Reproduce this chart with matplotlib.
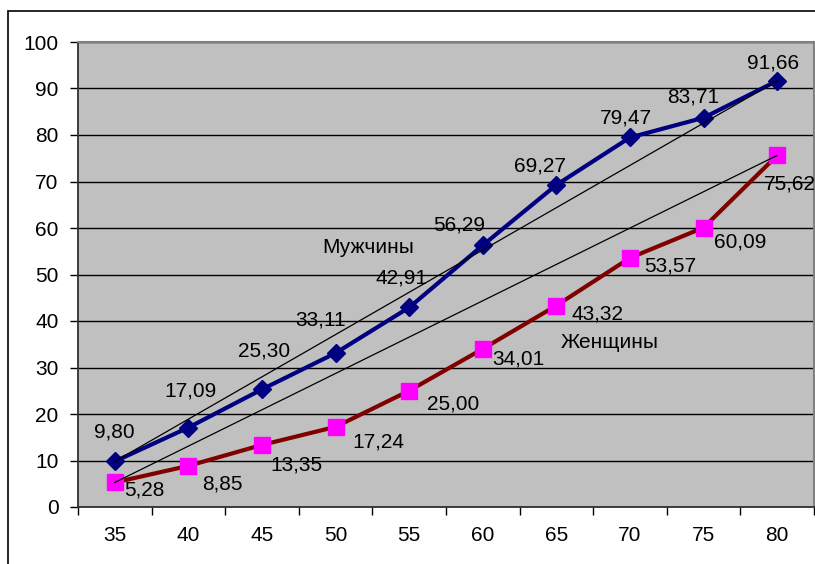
import numpy as np
import matplotlib
matplotlib.use("Agg")
import matplotlib.pyplot as plt
from matplotlib.patches import Rectangle

plt.rcParams['font.family'] = ['Liberation Sans', 'DejaVu Sans']

# ---- data ----
ages = ['35', '40', '45', '50', '55', '60', '65', '70', '75', '80']
men = [9.80, 17.09, 25.30, 33.11, 42.91, 56.29, 69.27, 79.47, 83.71, 91.66]
women = [5.28, 8.85, 13.35, 17.24, 25.00, 34.01, 43.32, 53.57, 60.09, 75.62]
men_name = 'Мужчины'
women_name = 'Женщины'

# label offsets in pixels (layout only)
men_off = [(0, 29), (2, 37), (2, 38), (-15, 33), (-8, 29), (-24, 20), (-16, 19), (-4, 19), (-10, 21), (-4, 18)]
women_off = [(30, -8), (34, -18), (34, -20), (43, -15), (44, -13), (36, -10), (41, -8), (40, -8), (37, -14), (13, -29)]

FS = 15
x = np.arange(len(ages))

fig = plt.figure(figsize=(8.15, 5.64), dpi=100)
ax = fig.add_axes([78 / 815, 57 / 564, 736 / 815, 465 / 564])
ax.set_facecolor('#C0C0C0')

# outer chart border (runs off the right/bottom edge)
fig.patches.append(Rectangle((8 / 815, -0.2), 1.0, (564 - 11) / 564 + 0.2,
                             transform=fig.transFigure, fill=False,
                             edgecolor='black', linewidth=1.2, clip_on=False))

ax.set_ylim(0, 100)
ax.set_xlim(-0.5, len(ages) - 0.5)
ax.set_yticks(range(0, 101, 10))
ax.yaxis.grid(True, color='black', linewidth=1.0)
ax.set_axisbelow(True)

ax.set_xticks(x)
ax.set_xticklabels(ages)
ax.set_xticks(np.arange(-0.5, len(ages)), minor=True)
ax.tick_params(axis='x', which='major', length=0, pad=14, labelsize=FS)
ax.tick_params(axis='x', which='minor', length=6, width=1, color='black')
ax.tick_params(axis='y', length=6, width=1, pad=8, labelsize=FS)

for s in ['top', 'right']:
    ax.spines[s].set_color('#808080')
    ax.spines[s].set_linewidth(1.5)
for s in ['left', 'bottom']:
    ax.spines[s].set_color('#303030')
    ax.spines[s].set_linewidth(1.3)

ax.plot(x, men, color='#000080', linewidth=3, marker='D', markersize=9,
        markerfacecolor='#000080', markeredgecolor='#000080', zorder=3)
ax.plot(x, women, color='#800000', linewidth=3, marker='s', markersize=11,
        markerfacecolor='#FF00FF', markeredgecolor='#FF00FF', zorder=3)

# straight lines first -> last point
ax.plot([x[0], x[-1]], [men[0], men[-1]], color='black', linewidth=0.9, zorder=4)
ax.plot([x[0], x[-1]], [women[0], women[-1]], color='black', linewidth=0.9, zorder=4)

for i in range(len(ages)):
    ax.annotate(f'{men[i]:.2f}'.replace('.', ','), (x[i], men[i]),
                xytext=men_off[i], textcoords='offset pixels',
                ha='center', va='center', fontsize=FS, zorder=5)
    ax.annotate(f'{women[i]:.2f}'.replace('.', ','), (x[i], women[i]),
                xytext=women_off[i], textcoords='offset pixels',
                ha='center', va='center', fontsize=FS, zorder=5, annotation_clip=False)

ax.text(3.44, 55.7, men_name, ha='center', va='center', fontsize=FS)
ax.text(6.73, 35.3, women_name, ha='center', va='center', fontsize=FS)

fig.savefig('out.png', dpi=100)
